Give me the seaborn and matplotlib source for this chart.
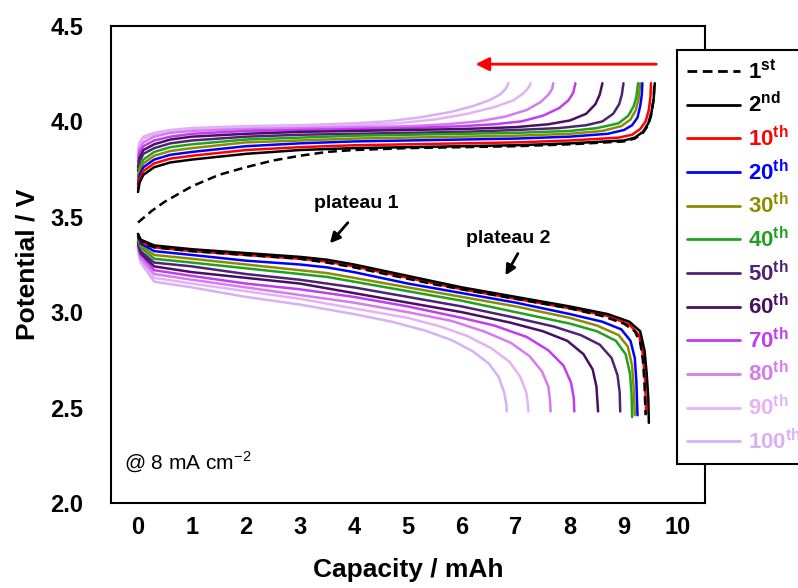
import pandas as pd
import matplotlib
matplotlib.use("Agg")
import matplotlib.pyplot as plt
import seaborn as sns
from matplotlib.lines import Line2D

sns.set_theme(style="white")
plt.rcParams["font.family"] = ["Liberation Sans", "DejaVu Sans"]
plt.rcParams["mathtext.fontset"] = "custom"
plt.rcParams["mathtext.rm"] = "Liberation Sans"
plt.rcParams["mathtext.bf"] = "Liberation Sans:bold"
plt.rcParams["text.color"] = "black"
plt.rcParams["axes.labelcolor"] = "black"

# cycle labels and colours
cycles = ["1st", "2nd", "10th", "20th", "30th", "40th", "50th", "60th", "70th", "80th", "90th", "100th"]
colors = ["#000000", "#000000", "#ff0000", "#0000ff", "#8c8c00", "#22a022",
          "#4e2274", "#4a0f62", "#c23cf0", "#d57cf0", "#e6b2f6", "#d9b0f5"]

# charge branches (capacity mAh, potential V)
chg_1st = [(0, 3.47), (0.25, 3.53), (0.5, 3.58), (1, 3.66), (1.5, 3.72), (2, 3.76), (2.5, 3.795), (3, 3.82),
           (3.5, 3.84), (4, 3.85), (5, 3.86), (6, 3.865), (7, 3.87), (8, 3.88), (9, 3.895), (9.2, 3.91),
           (9.35, 3.94), (9.45, 3.98), (9.51, 4.04), (9.55, 4.12), (9.56, 4.2)]
chg_2nd = [(0, 3.63), (0.03, 3.68), (0.1, 3.72), (0.3, 3.76), (0.6, 3.785), (1, 3.80), (2, 3.83), (3, 3.85),
           (4, 3.86), (5, 3.865), (6, 3.87), (7, 3.875), (8, 3.885), (9, 3.90), (9.2, 3.915), (9.35, 3.945),
           (9.45, 3.99), (9.51, 4.05), (9.55, 4.12), (9.57, 4.2)]
chg_10th = [(0, 3.65), (0.03, 3.70), (0.1, 3.74), (0.3, 3.78), (0.6, 3.805), (1, 3.82), (2, 3.85), (3, 3.865),
            (4, 3.875), (5, 3.88), (6, 3.885), (7, 3.89), (8, 3.90), (8.9, 3.915), (9.15, 3.93), (9.3, 3.96),
            (9.4, 4.0), (9.46, 4.06), (9.49, 4.13), (9.5, 4.2)]
chg_20th = [(0, 3.67), (0.03, 3.72), (0.1, 3.76), (0.3, 3.80), (0.6, 3.825), (1, 3.84), (2, 3.87), (3, 3.885),
            (4, 3.895), (5, 3.90), (6, 3.905), (7, 3.91), (8, 3.92), (8.7, 3.935), (9.0, 3.955), (9.15, 3.98),
            (9.25, 4.02), (9.3, 4.08), (9.33, 4.14), (9.34, 4.2)]
chg_30th = [(0, 3.69), (0.03, 3.74), (0.1, 3.78), (0.3, 3.82), (0.6, 3.845), (1, 3.86), (2, 3.89), (3, 3.90),
            (4, 3.91), (5, 3.915), (6, 3.92), (7, 3.925), (8, 3.935), (8.6, 3.95), (8.95, 3.975), (9.12, 4.01),
            (9.22, 4.06), (9.27, 4.12), (9.30, 4.2)]
chg_40th = [(0, 3.71), (0.03, 3.76), (0.1, 3.80), (0.3, 3.84), (0.6, 3.865), (1, 3.88), (2, 3.905), (3, 3.915),
            (4, 3.925), (5, 3.93), (6, 3.935), (7, 3.94), (8, 3.95), (8.5, 3.965), (8.9, 3.99), (9.08, 4.03),
            (9.18, 4.08), (9.23, 4.13), (9.26, 4.2)]
chg_50th = [(0, 3.74), (0.03, 3.79), (0.1, 3.83), (0.3, 3.86), (0.6, 3.885), (1, 3.90), (2, 3.92), (3, 3.93),
            (4, 3.935), (5, 3.94), (6, 3.945), (7, 3.955), (7.8, 3.965), (8.3, 3.98), (8.6, 4.0), (8.8, 4.04),
            (8.91, 4.09), (8.96, 4.14), (8.99, 4.2)]
chg_60th = [(0, 3.76), (0.03, 3.81), (0.1, 3.85), (0.3, 3.88), (0.6, 3.905), (1, 3.92), (2, 3.935), (3, 3.945),
            (4, 3.95), (5, 3.955), (6, 3.96), (7, 3.97), (7.6, 3.985), (8.0, 4.005), (8.3, 4.04), (8.47, 4.09),
            (8.55, 4.14), (8.6, 4.2)]
chg_70th = [(0, 3.79), (0.03, 3.84), (0.1, 3.87), (0.3, 3.90), (0.6, 3.92), (1, 3.935), (2, 3.95), (3, 3.955),
            (4, 3.96), (5, 3.965), (6, 3.975), (6.6, 3.985), (7.1, 4.0), (7.5, 4.03), (7.8, 4.07), (7.97, 4.11),
            (8.06, 4.15), (8.1, 4.2)]
chg_80th = [(0, 3.81), (0.03, 3.86), (0.1, 3.89), (0.3, 3.92), (0.6, 3.94), (1, 3.95), (2, 3.96), (3, 3.965),
            (4, 3.97), (5, 3.975), (5.7, 3.985), (6.3, 4.0), (6.8, 4.025), (7.2, 4.06), (7.45, 4.1), (7.6, 4.14),
            (7.67, 4.17), (7.69, 4.2)]
chg_90th = [(0, 3.83), (0.03, 3.88), (0.1, 3.91), (0.3, 3.93), (0.6, 3.95), (1, 3.96), (2, 3.97), (3, 3.975),
            (4, 3.98), (4.8, 3.99), (5.5, 4.01), (6.1, 4.04), (6.6, 4.075), (6.95, 4.11), (7.15, 4.15),
            (7.24, 4.18), (7.27, 4.2)]
chg_100th = [(0, 3.85), (0.03, 3.89), (0.1, 3.92), (0.3, 3.94), (0.6, 3.955), (1, 3.965), (2, 3.975), (3, 3.98),
             (4, 3.99), (4.6, 4.0), (5.2, 4.02), (5.8, 4.05), (6.2, 4.08), (6.5, 4.11), (6.7, 4.14),
             (6.81, 4.17), (6.86, 4.2)]

# discharge branches
dis_1st = [(0, 3.40), (0.1, 3.36), (0.3, 3.34), (1, 3.32), (2, 3.30), (3, 3.28), (3.5, 3.26), (4, 3.235),
           (4.5, 3.205), (5, 3.175), (5.5, 3.145), (6, 3.12), (7, 3.07), (8, 3.02), (8.6, 2.98), (9.0, 2.94),
           (9.2, 2.90), (9.3, 2.84), (9.35, 2.75), (9.38, 2.62), (9.40, 2.46)]
dis_2nd = [(0, 3.41), (0.05, 3.38), (0.3, 3.35), (1, 3.33), (2, 3.31), (3, 3.29), (3.5, 3.275), (4, 3.25),
           (4.5, 3.22), (5, 3.19), (5.5, 3.16), (6, 3.13), (7, 3.08), (8, 3.03), (8.7, 2.99), (9.1, 2.95),
           (9.3, 2.90), (9.38, 2.80), (9.42, 2.68), (9.45, 2.55), (9.46, 2.42)]
dis_10th = [(0, 3.41), (0.05, 3.37), (0.3, 3.34), (1, 3.32), (2, 3.30), (3, 3.28), (3.5, 3.265), (4, 3.24),
            (4.5, 3.21), (5, 3.18), (5.5, 3.15), (6, 3.12), (7, 3.07), (8, 3.02), (8.7, 2.98), (9.1, 2.935),
            (9.28, 2.88), (9.35, 2.78), (9.39, 2.64), (9.41, 2.47)]
dis_20th = [(0, 3.40), (0.05, 3.36), (0.3, 3.32), (1, 3.30), (2, 3.27), (3, 3.25), (3.5, 3.235), (4, 3.21),
            (4.5, 3.18), (5, 3.15), (5.5, 3.125), (6, 3.10), (7, 3.05), (8, 2.99), (8.6, 2.95), (8.95, 2.91),
            (9.12, 2.85), (9.2, 2.76), (9.23, 2.63), (9.25, 2.46)]
dis_30th = [(0, 3.39), (0.05, 3.35), (0.3, 3.30), (1, 3.28), (2, 3.25), (3, 3.22), (3.5, 3.205), (4, 3.18),
            (4.5, 3.155), (5, 3.13), (5.5, 3.105), (6, 3.08), (7, 3.03), (8, 2.97), (8.5, 2.93), (8.9, 2.88),
            (9.07, 2.82), (9.15, 2.72), (9.18, 2.60), (9.20, 2.46)]
dis_40th = [(0, 3.38), (0.05, 3.34), (0.3, 3.28), (1, 3.26), (2, 3.23), (3, 3.20), (3.5, 3.185), (4, 3.16),
            (4.5, 3.135), (5, 3.11), (5.5, 3.085), (6, 3.06), (7, 3.00), (8, 2.94), (8.5, 2.90), (8.85, 2.85),
            (9.03, 2.78), (9.11, 2.68), (9.14, 2.57), (9.15, 2.45)]
dis_50th = [(0, 3.37), (0.05, 3.32), (0.3, 3.26), (1, 3.24), (2, 3.20), (3, 3.17), (4, 3.13), (5, 3.08),
            (6, 3.03), (7, 2.97), (7.7, 2.925), (8.2, 2.88), (8.55, 2.83), (8.77, 2.76), (8.88, 2.67),
            (8.92, 2.58), (8.93, 2.48)]
dis_60th = [(0, 3.36), (0.05, 3.31), (0.3, 3.24), (1, 3.21), (2, 3.18), (3, 3.15), (4, 3.10), (5, 3.05),
            (6, 3.00), (6.9, 2.945), (7.5, 2.90), (7.95, 2.85), (8.25, 2.78), (8.42, 2.70), (8.49, 2.61),
            (8.52, 2.48)]
dis_70th = [(0, 3.35), (0.05, 3.30), (0.3, 3.22), (1, 3.19), (2, 3.15), (3, 3.12), (4, 3.08), (5, 3.03),
            (6, 2.97), (6.6, 2.93), (7.2, 2.87), (7.6, 2.80), (7.88, 2.72), (8.02, 2.63), (8.07, 2.55),
            (8.08, 2.48)]
dis_80th = [(0, 3.34), (0.05, 3.28), (0.3, 3.20), (1, 3.17), (2, 3.13), (3, 3.09), (4, 3.05), (5, 3.00),
            (5.8, 2.955), (6.4, 2.90), (6.9, 2.84), (7.25, 2.77), (7.48, 2.69), (7.6, 2.61), (7.63, 2.54),
            (7.64, 2.48)]
dis_90th = [(0, 3.33), (0.05, 3.27), (0.3, 3.18), (1, 3.15), (2, 3.11), (3, 3.07), (4, 3.02), (5, 2.97),
            (5.6, 2.925), (6.1, 2.875), (6.55, 2.81), (6.88, 2.74), (7.08, 2.66), (7.19, 2.58), (7.22, 2.52),
            (7.23, 2.48)]
dis_100th = [(0, 3.32), (0.05, 3.26), (0.3, 3.16), (1, 3.13), (2, 3.08), (3, 3.04), (4, 2.99), (4.7, 2.95),
             (5.3, 2.905), (5.8, 2.855), (6.2, 2.795), (6.5, 2.73), (6.68, 2.66), (6.78, 2.58), (6.82, 2.52),
             (6.83, 2.48)]

charge = [chg_1st, chg_2nd, chg_10th, chg_20th, chg_30th, chg_40th,
          chg_50th, chg_60th, chg_70th, chg_80th, chg_90th, chg_100th]
discharge = [dis_1st, dis_2nd, dis_10th, dis_20th, dis_30th, dis_40th,
             dis_50th, dis_60th, dis_70th, dis_80th, dis_90th, dis_100th]

rows = []
for cyc, ch, dc in zip(cycles, charge, discharge):
    for x, v in ch:
        rows.append((cyc, "charge", x, v))
    for x, v in dc:
        rows.append((cyc, "discharge", x, v))
df = pd.DataFrame(rows, columns=["Cycle", "Branch", "Capacity", "Potential"])

palette = dict(zip(cycles, colors))
dashes = {c: (3.5, 2) if c == "1st" else "" for c in cycles}

fig = plt.figure(figsize=(7.98, 5.88), dpi=100)
ax = fig.add_axes([111 / 798, 1 - 503 / 588, (705 - 111) / 798, (503 - 26) / 588])

# draw lightest first so early cycles sit on top
for cyc in cycles[::-1]:
    sub = df[df["Cycle"] == cyc]
    sns.lineplot(data=sub, x="Capacity", y="Potential", hue="Cycle", style="Cycle",
                 units="Branch", estimator=None, sort=False, palette=palette,
                 dashes=dashes, linewidth=1.8, legend=False, ax=ax)

ax.set_xlim(-0.5, 10.5)
ax.set_ylim(2.0, 4.5)
ax.set_xticks(range(0, 11))
ax.set_yticks([2.0, 2.5, 3.0, 3.5, 4.0, 4.5])
ax.set_yticklabels([f"{v:.1f}" for v in [2.0, 2.5, 3.0, 3.5, 4.0, 4.5]])
ax.tick_params(axis="both", direction="in", length=6, width=1.5, labelsize=17, colors="black")
ax.tick_params(axis="y", pad=20)
ax.tick_params(axis="x", pad=9)
for lab in ax.get_xticklabels() + ax.get_yticklabels():
    lab.set_fontweight("bold")
for side in ["left", "bottom", "top", "right"]:
    ax.spines[side].set_color("black")
    ax.spines[side].set_linewidth(1.5)

ax.set_xlabel("Capacity / mAh", fontsize=19, fontweight="bold", labelpad=14, color="black")
ax.set_ylabel("Potential / V", fontsize=19, fontweight="bold", labelpad=8, color="black")

# annotations
ax.text(4.04, 3.57, "plateau 1", fontsize=14, fontweight="bold", ha="center", va="center")
ax.annotate("", xy=(3.52, 3.35), xytext=(3.92, 3.48),
            arrowprops=dict(arrowstyle="-|>", color="black", lw=2, mutation_scale=15))
ax.text(6.86, 3.385, "plateau 2", fontsize=14, fontweight="bold", ha="center", va="center")
ax.annotate("", xy=(6.78, 3.18), xytext=(7.06, 3.32),
            arrowprops=dict(arrowstyle="-|>", color="black", lw=2, mutation_scale=15))
ax.annotate("", xy=(6.2, 4.3), xytext=(9.65, 4.3),
            arrowprops=dict(arrowstyle="-|>", color="#ff0000", lw=2, mutation_scale=20))
ax.text(-0.25, 2.21, "@ 8 mA cm$^{\\mathregular{-2}}$", fontsize=15, ha="left", va="center")

# legend with ordinal superscripts
labels = [r"1$^{\mathbf{st}}$", r"2$^{\mathbf{nd}}$"] + [f"{c[:-2]}" + r"$^{\mathbf{th}}$" for c in cycles[2:]]
handles = [Line2D([0], [0], color=palette[c], lw=2,
                  linestyle=(0, (3.5, 2)) if c == "1st" else "-") for c in cycles]
leg = fig.legend(handles, labels, loc="upper left", bbox_to_anchor=(677 / 798, 1 - 50 / 588),
                 frameon=True, fancybox=False, framealpha=1, edgecolor="black",
                 prop={"size": 16, "weight": "bold"}, handlelength=2.4, handletextpad=0.35,
                 labelspacing=0.38, borderpad=0.45, borderaxespad=0)
leg.get_frame().set_linewidth(1.5)
for txt, c in zip(leg.get_texts(), colors):
    txt.set_color(c)

fig.savefig("out.png", dpi=100)
